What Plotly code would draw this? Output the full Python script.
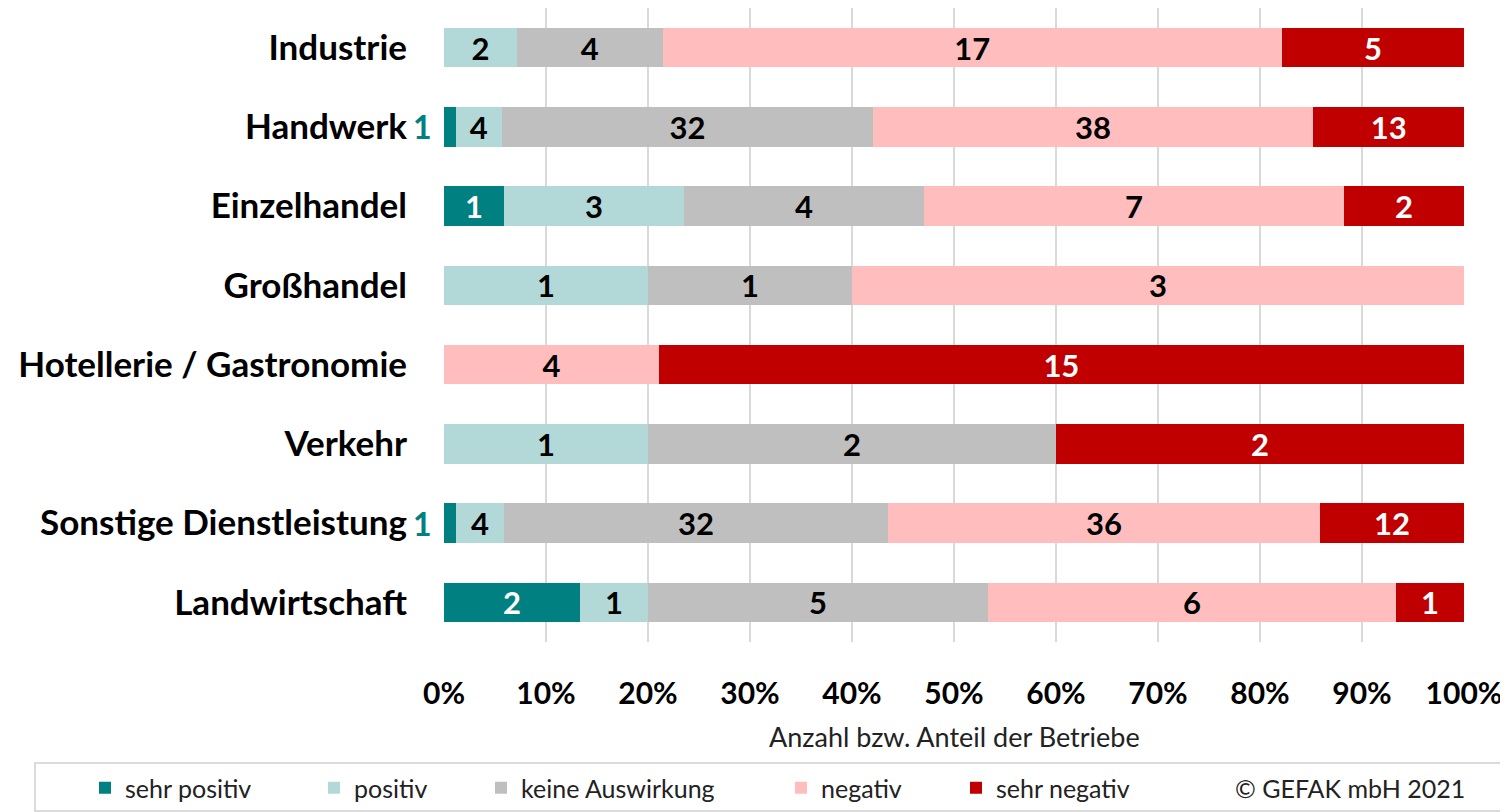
import plotly.graph_objects as go

categories = ["Industrie", "Handwerk", "Einzelhandel", "Großhandel",
              "Hotellerie / Gastronomie", "Verkehr", "Sonstige Dienstleistung", "Landwirtschaft"]
series_names = ["sehr positiv", "positiv", "keine Auswirkung", "negativ", "sehr negativ"]
sehr_positiv = [0, 1, 1, 0, 0, 0, 1, 2]
positiv = [2, 4, 3, 1, 0, 1, 4, 1]
keine_auswirkung = [4, 32, 4, 1, 0, 2, 32, 5]
negativ = [17, 38, 7, 3, 4, 0, 36, 6]
sehr_negativ = [5, 13, 2, 0, 15, 2, 12, 1]
x_ticks = [0, 10, 20, 30, 40, 50, 60, 70, 80, 90, 100]
x_tick_labels = ["0%", "10%", "20%", "30%", "40%", "50%", "60%", "70%", "80%", "90%", "100%"]

series = [sehr_positiv, positiv, keine_auswirkung, negativ, sehr_negativ]
colors = ["#008080", "#B2D9D8", "#BFBFBF", "#FFBDBD", "#C00000"]
text_colors = ["white", "black", "black", "black", "white"]
FONT = "Lato"

totals = [sum(s[i] for s in series) for i in range(len(categories))]

# page geometry (the page body adds an 8px margin)
OFF = 8
W, H = 1508 - OFF, 812 - OFF
L, R, T, B = 444, 1464, 8, 642   # plot area in page pixels
def px_x(px):
    return (px - L) / (R - L)
def px_y(py):
    return (B - py) / (B - T)

fig = go.Figure()
outside_annots = []
legend_marker_px = [104, 333, 500, 800, 975]
for k, (name, vals) in enumerate(zip(series_names, series)):
    texts = []
    for i, v in enumerate(vals):
        share = v / totals[i] * 100 if totals[i] else 0
        if v == 0:
            texts.append("")
        elif share < 3:
            texts.append("")
            outside_annots.append((categories[i], v, colors[k]))
        else:
            texts.append(str(v))
    lg = "legend" if k == 0 else f"legend{k+1}"
    fig.add_trace(go.Bar(
        y=categories, x=vals, name=name, orientation="h",
        marker=dict(color=colors[k], line=dict(width=0)),
        text=texts, textposition="inside", insidetextanchor="middle",
        constraintext="none", textangle=0,
        textfont=dict(family=FONT, size=31, color=text_colors[k], weight="bold"),
        legend=lg, hoverinfo="skip", showlegend=True,
    ))

legend_layouts = {}
for k in range(5):
    key = "legend" if k == 0 else f"legend{k+1}"
    legend_layouts[key] = dict(
        x=px_x(legend_marker_px[k] - 19), y=px_y(788), xanchor="left", yanchor="middle",
        orientation="h", bgcolor="rgba(0,0,0,0)",
        font=dict(family=FONT, size=25, color="#222222"),
        itemwidth=30, visible=True,
    )

annotations = []
for cat, v, col in outside_annots:
    annotations.append(dict(x=0, y=cat, xref="x", yref="y", text=f"<b>{v}</b>",
                            xanchor="right", xshift=-10, showarrow=False,
                            font=dict(family=FONT, size=32, color=col)))
annotations.append(dict(x=0.5, y=px_y(736), xref="paper", yref="paper",
                        text="Anzahl bzw. Anteil der Betriebe", showarrow=False,
                        xanchor="center", yanchor="middle",
                        font=dict(family=FONT, size=27, color="#222222")))
annotations.append(dict(x=px_x(1350), y=px_y(788), xref="paper", yref="paper",
                        text="© GEFAK mbH 2021", showarrow=False,
                        xanchor="center", yanchor="middle",
                        font=dict(family=FONT, size=25, color="#222222")))

fig.update_layout(
    width=W, height=H,
    showlegend=True,
    barmode="stack", barnorm="percent", bargap=0.5,
    margin=dict(l=L - OFF, r=W - (R - OFF), t=T - OFF, b=H - (B - OFF), autoexpand=False),
    plot_bgcolor="white", paper_bgcolor="white",
    font=dict(family=FONT, color="black"),
    annotations=annotations,
    shapes=[dict(type="rect", xref="paper", yref="paper",
                 x0=px_x(35), x1=px_x(1507), y0=px_y(763), y1=px_y(811),
                 line=dict(color="#D0D0D0", width=1.5), fillcolor="rgba(0,0,0,0)")],
    **legend_layouts,
)
fig.update_xaxes(range=[0, 100], tickvals=x_ticks, ticktext=x_tick_labels,
                 showgrid=True, gridcolor="#D9D9D9", gridwidth=1.5,
                 zeroline=False, showline=False, ticks="",
                 ticklabelstandoff=31,
                 tickfont=dict(family=FONT, size=30, color="black", weight="bold"))
fig.update_yaxes(categoryorder="array", categoryarray=categories, autorange="reversed",
                 showgrid=False, zeroline=False, showline=False, ticks="",
                 ticklabelstandoff=36,
                 tickfont=dict(family=FONT, size=35, color="black", weight="bold"))

fig.write_html("out.html")
